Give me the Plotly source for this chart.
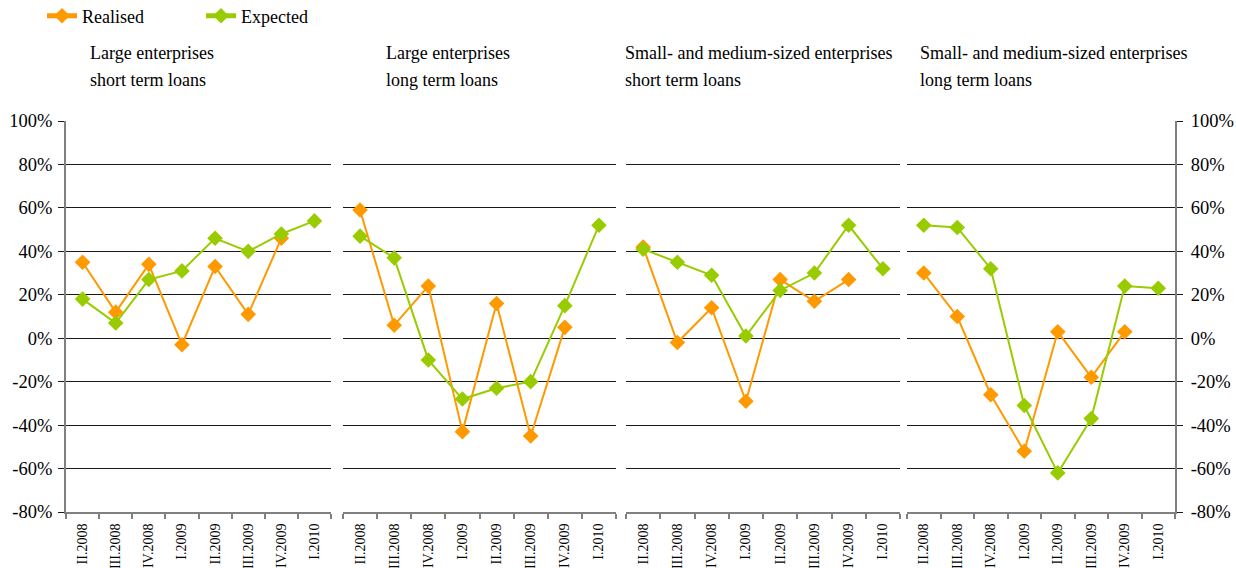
import plotly.graph_objects as go

quarters = ["II.2008", "III.2008", "IV.2008", "I.2009", "II.2009", "III.2009", "IV.2009", "I.2010"]

title_le_short = ["Large enterprises", "short term loans"]
title_le_long = ["Large enterprises", "long term loans"]
title_sme_short = ["Small- and medium-sized enterprises", "short term loans"]
title_sme_long = ["Small- and medium-sized enterprises", "long term loans"]

realised_le_short = [35, 12, 34, -3, 33, 11, 46, None]
expected_le_short = [18, 7, 27, 31, 46, 40, 48, 54]

realised_le_long = [59, 6, 24, -43, 16, -45, 5, None]
expected_le_long = [47, 37, -10, -28, -23, -20, 15, 52]

realised_sme_short = [42, -2, 14, -29, 27, 17, 27, None]
expected_sme_short = [41, 35, 29, 1, 22, 30, 52, 32]

realised_sme_long = [30, 10, -26, -52, 3, -18, 3, None]
expected_sme_long = [52, 51, 32, -31, -62, -37, 24, 23]

y_tick_vals = [-80, -60, -40, -20, 0, 20, 40, 60, 80, 100]
y_tick_text = ["-80%", "-60%", "-40%", "-20%", "0%", "20%", "40%", "60%", "80%", "100%"]

W, H = 1236, 568
L, R, T, B = 66, 1175, 121, 512
pw = R - L

def fx(px):
    return (px - L) / pw

def fy(py):
    return (B - py) / (B - T)

panels = [
    (title_le_short, realised_le_short, expected_le_short, (66, 331), 88),
    (title_le_long, realised_le_long, expected_le_long, (343, 616), 384),
    (title_sme_short, realised_sme_short, expected_sme_short, (626, 900), 623),
    (title_sme_long, realised_sme_long, expected_sme_long, (907, 1175), 918),
]

ORANGE = "#FF9900"
GREEN = "#99CC00"
FONT = "Times New Roman, Liberation Serif, DejaVu Serif, serif"

fig = go.Figure()
annotations = []
layout_axes = {}

for i, (title, real, exp, (x0, x1), tx) in enumerate(panels):
    n = "" if i == 0 else str(i + 1)
    xa, ya = "x" + n, "y" + n
    fig.add_trace(go.Scatter(
        x=quarters, y=real, xaxis=xa, yaxis=ya, name="Realised",
        mode="lines+markers", line=dict(color=ORANGE, width=2),
        marker=dict(symbol="diamond", size=12, color=ORANGE),
        showlegend=(i == 0), legendgroup="r", connectgaps=False,
    ))
    fig.add_trace(go.Scatter(
        x=quarters, y=exp, xaxis=xa, yaxis=ya, name="Expected",
        mode="lines+markers", line=dict(color=GREEN, width=2),
        marker=dict(symbol="diamond", size=12, color=GREEN),
        showlegend=(i == 0), legendgroup="e",
    ))
    layout_axes["xaxis" + n] = dict(
        domain=[fx(x0), fx(x1)], anchor=ya, type="category",
        categoryorder="array", categoryarray=quarters,
        range=[-0.5, 7.5], tickson="boundaries", ticks="outside",
        ticklen=5, tickcolor="#808080", tickwidth=1.5,
        showline=True, linecolor="#808080", linewidth=2,
        showgrid=False, tickangle=-90, automargin=False,
        ticklabelstandoff=4,
        tickfont=dict(family=FONT, size=14, color="#000"),
        fixedrange=True,
    )
    ya_dict = dict(
        domain=[0, 1], anchor=xa, range=[-80, 100],
        tickvals=y_tick_vals, ticktext=y_tick_text,
        showgrid=True, gridcolor="#1a1a1a", gridwidth=1,
        zeroline=False, automargin=False, fixedrange=True,
        tickfont=dict(family=FONT, size=18.5, color="#000"),
    )
    if i == 0:
        ya_dict.update(showline=True, linecolor="#808080", linewidth=2,
                       ticks="outside", ticklen=6, tickcolor="#1a1a1a",
                       showticklabels=True, side="left", ticklabelstandoff=2)
    elif i == 3:
        ya_dict.update(showline=True, linecolor="#808080", linewidth=2,
                       ticks="outside", ticklen=6, tickcolor="#1a1a1a",
                       showticklabels=True, side="right", ticklabelstandoff=4)
    else:
        ya_dict.update(showline=False, ticks="", showticklabels=False)
    layout_axes["yaxis" + n] = ya_dict

    for j, (line, py) in enumerate(zip(title, [53, 80])):
        annotations.append(dict(
            text=line, xref="paper", yref="paper",
            x=fx(tx), y=fy(py), xanchor="left", yanchor="middle",
            showarrow=False, font=dict(family=FONT, size=18, color="#000"),
        ))

fig.update_layout(
    width=W, height=H,
    margin=dict(l=L, r=W - R, t=T, b=H - B, autoexpand=False),
    paper_bgcolor="white", plot_bgcolor="white",
    showlegend=True,
    legend=dict(
        orientation="h", x=fx(42), y=fy(16), xanchor="left", yanchor="middle",
        font=dict(family=FONT, size=18, color="#000"),
        entrywidth=114, entrywidthmode="pixels",
        bgcolor="rgba(0,0,0,0)", itemsizing="constant",
    ),
    annotations=annotations,
    **layout_axes,
)

fig.write_html("out.html")
